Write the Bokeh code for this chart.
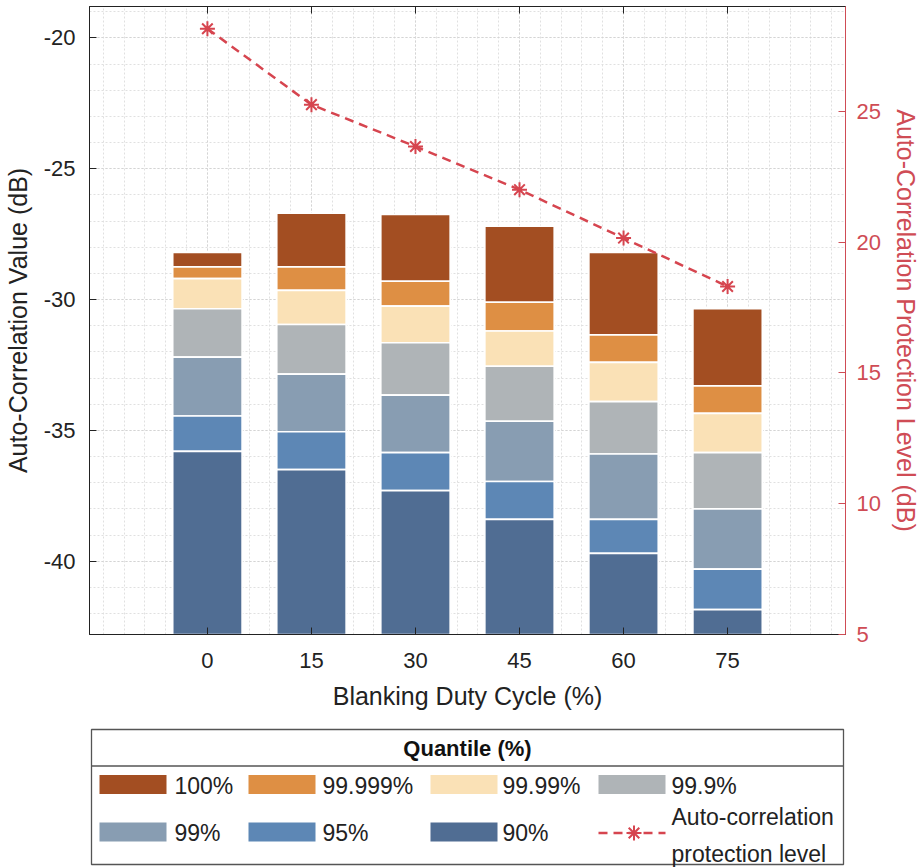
from bokeh.plotting import figure
from bokeh.models import (Range1d, LinearAxis, FixedTicker, SingleIntervalTicker,
                          ColumnDataSource, CustomJSTickFormatter)
from bokeh.layouts import column
from bokeh.embed import file_html
from bokeh.resources import INLINE
from bokeh.core.properties import value

# ---------------- data ----------------
duty = [0, 15, 30, 45, 60, 75]
quantile_labels = ["100%", "99.999%", "99.99%", "99.9%", "99%", "95%", "90%"]
q100 = [-28.2, -26.7, -26.75, -27.2, -28.2, -30.35]
q99999 = [-28.75, -28.75, -29.3, -30.1, -31.35, -33.3]
q9999 = [-29.2, -29.65, -30.25, -31.2, -32.4, -34.35]
q999 = [-30.35, -30.95, -31.65, -32.55, -33.9, -35.85]
q99 = [-32.2, -32.85, -33.65, -34.65, -35.9, -38.0]
q95 = [-34.45, -35.05, -35.85, -36.95, -38.4, -40.3]
q90 = [-35.8, -36.5, -37.3, -38.4, -39.7, -41.85]
protection = [28.15, 25.25, 23.65, 22.0, 20.15, 18.3]
baseline = -42.8

colors = ["#A34E22", "#DE8F44", "#FAE1B6", "#AFB4B7", "#889DB2", "#5D87B5", "#506D93"]
red = "#D6454F"
axis_red = "#CF4C55"
dark = "#222222"
FONT = "Liberation Sans"

series = [q100, q99999, q9999, q999, q99, q95, q90]

W = 923
BL, BR = 89, 78          # left / right borders of the plotting frame
MAIN_H = 720

# ---------------- main chart ----------------
p = figure(width=W, height=MAIN_H, x_range=Range1d(-17, 92), y_range=Range1d(-42.8, -18.8),
           output_backend="svg", toolbar_location=None,
           min_border_left=BL, min_border_right=BR, min_border_top=6,
           min_border_bottom=MAIN_H - 634)
p.outline_line_color = dark
p.outline_line_width = 1
p.background_fill_color = "white"

for i, s in enumerate(series):
    bottoms = series[i + 1] if i + 1 < len(series) else [baseline] * len(duty)
    src = ColumnDataSource(dict(x=duty, top=s, bottom=bottoms))
    p.vbar(x="x", top="top", bottom="bottom", width=10, source=src,
           fill_color=colors[i], line_color="white", line_width=1.6)

p.extra_y_ranges = {"prot": Range1d(5, 29)}
psrc = ColumnDataSource(dict(x=duty, y=protection))
p.line("x", "y", source=psrc, y_range_name="prot", line_color=red, line_width=2.5,
       line_dash="9 6")
p.scatter("x", "y", source=psrc, y_range_name="prot", marker="asterisk", size=15,
          line_color=red, line_width=2)

# axes
p.xaxis.ticker = FixedTicker(ticks=duty, minor_ticks=list(range(-15, 93, 3)))
p.yaxis.ticker = SingleIntervalTicker(interval=5, num_minor_ticks=5)
p.yaxis.formatter = CustomJSTickFormatter(code="return tick.toString();")
for ax in p.xaxis + p.yaxis:
    ax.major_tick_in = 7
    ax.major_tick_out = 0
    ax.minor_tick_line_color = None
    ax.axis_line_color = dark
    ax.major_tick_line_color = dark
    ax.major_label_text_font = FONT
    ax.major_label_text_font_size = "22px"
    ax.major_label_text_color = dark
    ax.axis_label_text_font = FONT
    ax.axis_label_text_font_size = "25px"
    ax.axis_label_text_font_style = "normal"
    ax.axis_label_text_color = dark

p.xaxis.axis_label = "Blanking Duty Cycle (%)"
p.xaxis.major_label_standoff = 14
p.xaxis.axis_label_standoff = 11
p.yaxis.axis_label = "Auto-Correlation Value (dB)"
p.yaxis.major_label_standoff = 10
p.yaxis.axis_label_standoff = 9

top_ax = LinearAxis(ticker=FixedTicker(ticks=duty, minor_ticks=[]))
top_ax.major_tick_in = 7
top_ax.major_tick_out = 0
top_ax.major_label_text_font_size = "1px"
top_ax.major_label_text_alpha = 0
top_ax.major_label_standoff = 0
top_ax.axis_line_color = dark
top_ax.major_tick_line_color = dark
p.add_layout(top_ax, "above")

r_ax = LinearAxis(y_range_name="prot", ticker=SingleIntervalTicker(interval=5, num_minor_ticks=0),
                  axis_label="Auto-Correlation Protection Level (dB)")
r_ax.major_tick_in = 7
r_ax.major_tick_out = 0
r_ax.minor_tick_line_color = None
r_ax.axis_line_color = axis_red
r_ax.major_tick_line_color = axis_red
r_ax.major_label_text_color = axis_red
r_ax.major_label_text_font = FONT
r_ax.major_label_text_font_size = "22px"
r_ax.major_label_standoff = 11
r_ax.axis_label_text_color = axis_red
r_ax.axis_label_text_font = FONT
r_ax.axis_label_text_font_size = "25px"
r_ax.axis_label_text_font_style = "normal"
r_ax.axis_label_standoff = 8
p.add_layout(r_ax, "right")

for g in (p.xgrid, p.ygrid):
    g.grid_line_color = "#D4D4D4"
    g.grid_line_dash = "2 2"
    g.grid_line_width = 1
    g.minor_grid_line_color = "#E0E0E0"
    g.minor_grid_line_dash = "2 2"
    g.minor_grid_line_width = 1

# ---------------- legend panel (coordinates are page pixels) ----------------
LEG_H = 867 - MAIN_H
lf = figure(width=W, height=LEG_H, x_range=Range1d(BL, W - BR), y_range=Range1d(867, MAIN_H),
            output_backend="svg", toolbar_location=None,
            min_border_left=BL, min_border_right=BR, min_border_top=0, min_border_bottom=0,
            x_axis_type=None, y_axis_type=None)
lf.outline_line_color = None
lf.grid.visible = False

box_l, box_r, box_t, box_b = 91, 843, 729, 864
lf.quad(left=[box_l], right=[box_r], top=[box_t], bottom=[box_b],
        fill_color="white", line_color="#555555", line_width=1.3)
lf.segment(x0=[box_l], x1=[box_r], y0=[765.5], y1=[765.5], line_color="#555555", line_width=1.3)
lf.text(x=[(box_l + box_r) / 2], y=[748], text=["Quantile (%)"], text_font=value(FONT),
        text_font_size="22px", text_font_style="bold", text_align="center",
        text_baseline="middle", text_color="#111111")

sw_left = [99, 248, 430, 598]
sw_w = 67
row_y = [784, 831.5]
txt_x = [174, 322, 502, 671]
leg_items = list(zip(quantile_labels, colors))
for k, (lab, col) in enumerate(leg_items):
    r, c = divmod(k, 4)
    lf.rect(x=[sw_left[c] + sw_w / 2], y=[row_y[r]], width=sw_w, height=19,
            fill_color=col, line_color=None)
    lf.text(x=[txt_x[c]], y=[row_y[r] + 1], text=[lab], text_font=value(FONT),
            text_font_size="23px", text_align="left", text_baseline="middle",
            text_color=dark)

lf.line(x=[sw_left[3], sw_left[3] + sw_w], y=[row_y[1] + 1, row_y[1] + 1], line_color=red,
        line_width=2.5, line_dash="9 6")
lf.scatter(x=[sw_left[3] + sw_w / 2 + 2], y=[row_y[1] + 1], marker="asterisk", size=15,
           line_color=red, line_width=2)
lf.text(x=[txt_x[3], txt_x[3]], y=[816.5, 853], text=["Auto-correlation", "protection level"],
        text_font=value(FONT), text_font_size="23px", text_align="left",
        text_baseline="middle", text_color=dark)

layout = column(p, lf, spacing=0)
open("out.html", "w").write(file_html(layout, INLINE))
